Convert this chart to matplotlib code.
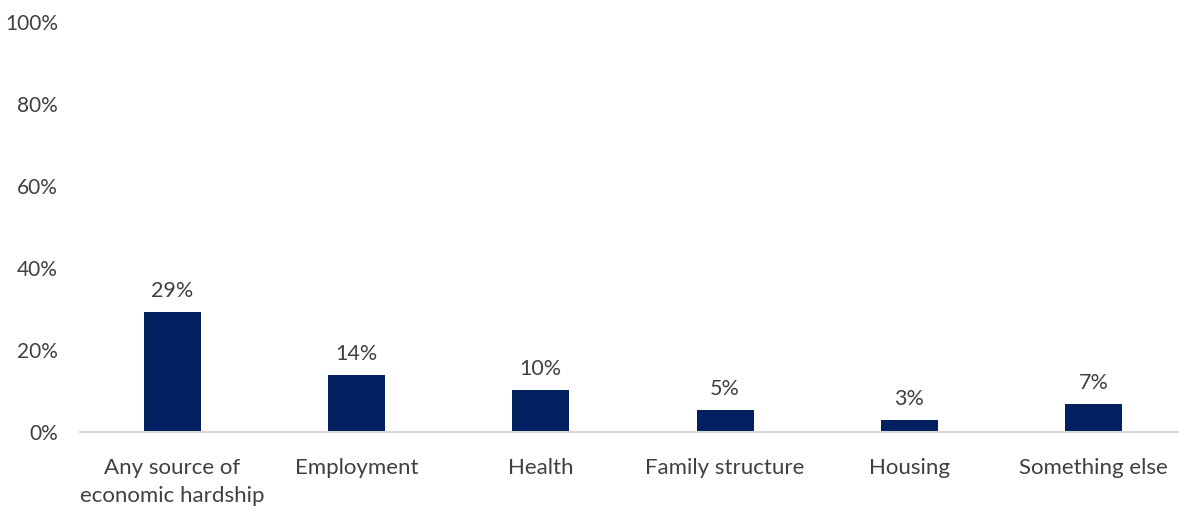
import matplotlib.pyplot as plt

plt.rcParams['font.family'] = ['Lato', 'DejaVu Sans']

# Share of respondents reporting each source of economic hardship
categories = ['Any source of\neconomic hardship', 'Employment', 'Health',
              'Family structure', 'Housing', 'Something else']
values = [29.3, 13.9, 10.2, 5.4, 3.0, 6.9]

navy = '#002060'
text_grey = '#404040'

fig = plt.figure(figsize=(11.79, 5.13), dpi=100)
ax = fig.add_axes([80 / 1179, (513 - 432) / 513, 1106 / 1179, 410 / 513])

x = range(len(categories))
bars = ax.bar(x, values, width=0.31, color=navy)

# value labels above the bars
for bar, v in zip(bars, values):
    ax.annotate(f'{v:.0f}%', xy=(bar.get_x() + bar.get_width() / 2, v),
                xytext=(0, 8), textcoords='offset points',
                ha='center', va='bottom', fontsize=15.5, color=text_grey)

ax.set_xlim(-0.5, len(categories) - 0.5)
ax.set_ylim(0, 100)
ax.set_yticks(range(0, 101, 20))
ax.set_yticklabels([f'{t}%' for t in range(0, 101, 20)])
ax.set_xticks(list(x))
ax.set_xticklabels(categories, linespacing=1.5)

for side in ['left', 'right', 'top']:
    ax.spines[side].set_visible(False)
ax.spines['bottom'].set_color('#d9d9d9')
ax.spines['bottom'].set_linewidth(1.5)

ax.tick_params(axis='y', length=0, pad=16, labelsize=15, labelcolor=text_grey)
ax.tick_params(axis='x', length=0, pad=19, labelsize=16, labelcolor=text_grey)
for lbl in ax.get_xticklabels():
    lbl.set_verticalalignment('top')

fig.savefig('out.png', dpi=100)
